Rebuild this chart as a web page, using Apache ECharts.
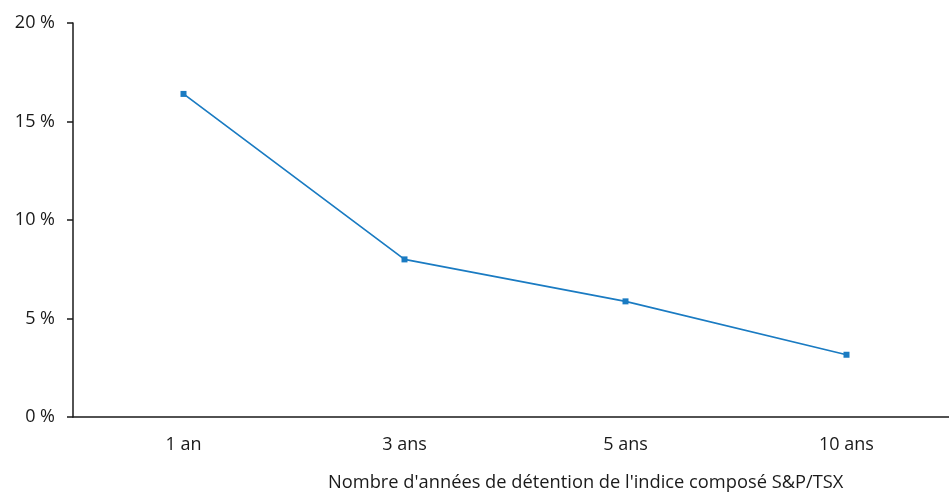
<!DOCTYPE html>
<html>
<head>
<meta charset="utf-8">
<script src="https://cdn.jsdelivr.net/npm/echarts@6/dist/echarts.min.js"></script>
<style>html,body{margin:0;padding:0;background:#fff;}#c{width:949px;height:494px;}</style>
</head>
<body>
<div id="c"></div>
<script>
var categories = ['1 an', '3 ans', '5 ans', '10 ans'];
var values = [16.4, 8.0, 5.87, 3.16];
var yTicks = [0, 5, 10, 15, 20];
var xName = "Nombre d'années de détention de l'indice composé S&P/TSX";

var font = 'Open Sans';
var chart = echarts.init(document.getElementById('c'), null, {renderer: 'canvas'});
chart.setOption({
  animation: false,
  backgroundColor: '#ffffff',
  title: {
    text: xName,
    left: 328,
    top: 474,
    padding: 0,
    textStyle: {fontFamily: font, fontSize: 18.3, fontWeight: 'normal', color: '#1a1a1a'}
  },
  grid: {left: 73, width: 884, top: 23, bottom: 77, containLabel: false, outerBoundsMode: 'none'},
  xAxis: {
    type: 'category',
    data: categories,
    boundaryGap: true,
    axisLine: {lineStyle: {color: '#1a1a1a', width: 1.5}},
    axisTick: {show: false},
    axisLabel: {fontFamily: font, fontSize: 18, color: '#1a1a1a', margin: 19},
    splitLine: {show: false}
  },
  yAxis: {
    type: 'value',
    min: yTicks[0],
    max: yTicks[yTicks.length - 1],
    interval: 5,
    axisLine: {show: true, lineStyle: {color: '#1a1a1a', width: 1.5}},
    axisTick: {show: true, length: 6, lineStyle: {color: '#1a1a1a', width: 1.5}},
    axisLabel: {fontFamily: font, fontSize: 18, color: '#1a1a1a', margin: 18,
      formatter: function (v) { return v + ' %'; }},
    splitLine: {show: false}
  },
  series: [{
    type: 'line',
    data: values,
    symbol: 'rect',
    symbolSize: 6,
    lineStyle: {color: '#1a7bc2', width: 1.7},
    itemStyle: {color: '#1a7bc2'}
  }]
});
</script>
</body>
</html>
